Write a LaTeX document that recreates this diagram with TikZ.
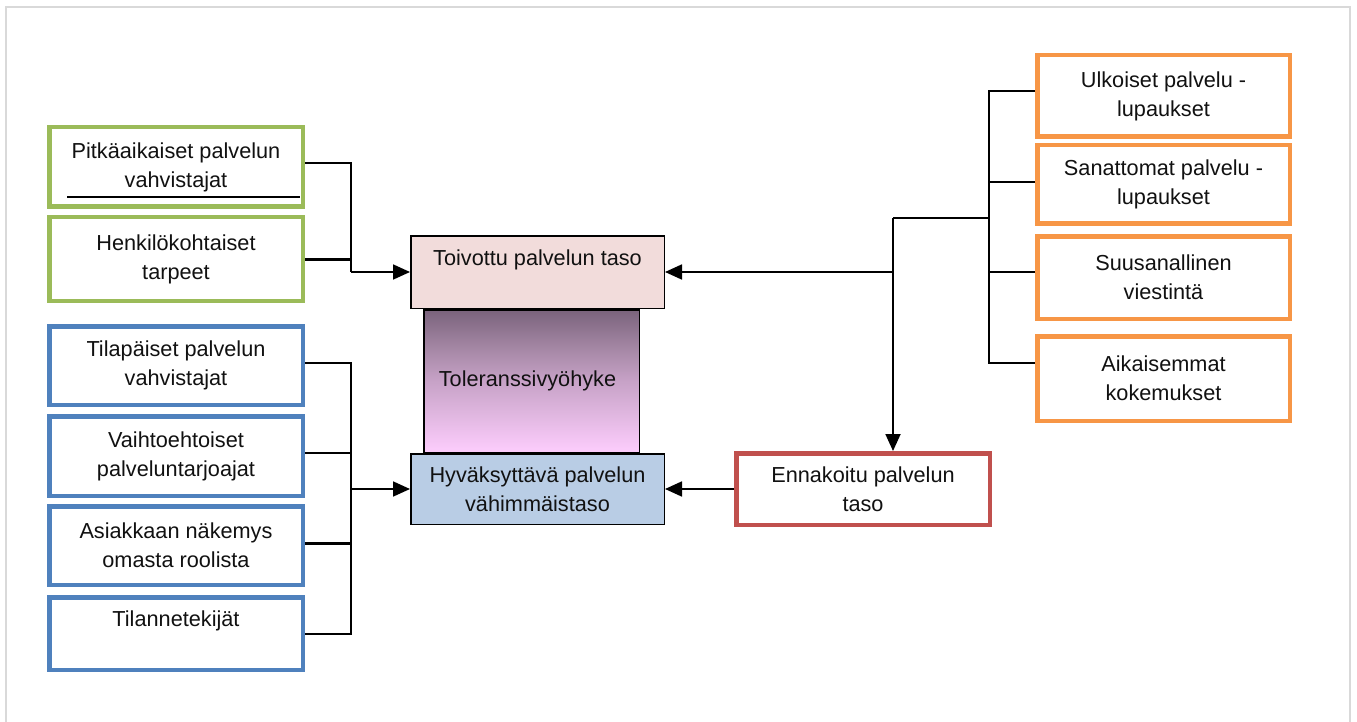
\documentclass[tikz,border=0pt]{standalone}
\usepackage{fontspec}
\setmainfont{Liberation Sans}
\usetikzlibrary{arrows.meta}

\definecolor{frameg}{HTML}{D9D9D9}
\definecolor{lgreen}{HTML}{9BBB59}
\definecolor{lblue}{HTML}{4F81BD}
\definecolor{lorange}{HTML}{F79646}
\definecolor{lred}{HTML}{C0504D}
\definecolor{pinkfill}{HTML}{F2DCDB}
\definecolor{bluefill}{HTML}{B9CDE5}
\definecolor{ink}{HTML}{111111}

% vertical gradient of the tolerance zone: 25bp = bottom edge, 75bp = top edge
\pgfdeclareverticalshading{tolshade}{100bp}{%
  rgb(0bp)=(0.992,0.804,0.992);
  rgb(25bp)=(0.992,0.804,0.992);
  rgb(37bp)=(0.890,0.725,0.890);
  rgb(50bp)=(0.780,0.635,0.780);
  rgb(62bp)=(0.640,0.525,0.640);
  rgb(75bp)=(0.478,0.388,0.486);
  rgb(100bp)=(0.478,0.388,0.486)}

\tikzset{
  base/.style={rectangle, inner sep=0pt, align=center, text=ink,
    font=\fontsize{21.7}{29}\selectfont},
  factor/.style={base, draw=#1, line width=4.5pt, fill=white},
  level/.style={base, draw=black, line width=1.5pt, fill=#1},
  conn/.style={draw=black, line width=1.8pt},
  heavy/.style={draw=black, line width=3pt},
  arr/.style={conn, -{Triangle[length=17pt,width=15pt]}},
}

\begin{document}
\begin{tikzpicture}[x=1pt,y=-1pt]
\useasboundingbox (0,0) rectangle (1357,722);
\fill[white] (0,0) rectangle (1357,722);

% page frame
\draw[frameg, line width=2.5pt] (6,722) -- (6,7) -- (1350,7) -- (1350,722);

% tolerance zone between the two service levels
\node[base, draw=black, line width=1.5pt, shading=tolshade,
      minimum width=215.5pt, minimum height=142.5pt] (tol) at (531.5,381)
      {\raisebox{-6pt}{\hspace{-8pt}Toleranssivyöhyke}};

% service levels
\node[level=pinkfill, minimum width=253.5pt, minimum height=72.5pt] (toiv) at (537.5,272)
      {Toivottu palvelun taso\\ \mbox{}};
\node[level=bluefill, minimum width=253.5pt, minimum height=70.5pt] (hyv) at (537.5,489)
      {Hyväksyttävä palvelun\\ vähimmäistaso};

% green factors
\node[factor=lgreen, minimum width=253.5pt, minimum height=79.5pt] (g1) at (176,167)
      {Pitkäaikaiset palvelun\\ vahvistajat};
\node[factor=lgreen, minimum width=253.5pt, minimum height=83.5pt] (g2) at (176,259)
      {Henkilökohtaiset\\ tarpeet};
\draw[black, line width=1.5pt] (67,197) -- (300,197);

% blue factors
\node[factor=lblue, minimum width=253.5pt, minimum height=78.5pt] (b1) at (176,365.5)
      {Tilapäiset palvelun\\ vahvistajat};
\node[factor=lblue, minimum width=253.5pt, minimum height=79.5pt] (b2) at (176,456)
      {Vaihtoehtoiset\\ palveluntarjoajat};
\node[factor=lblue, minimum width=253.5pt, minimum height=78.5pt] (b3) at (176,545.5)
      {Asiakkaan näkemys\\ omasta roolista};
\node[factor=lblue, minimum width=253.5pt, minimum height=72.5pt] (b4) at (176,633.5)
      {Tilannetekijät\\ \mbox{}};

% orange factors
\node[factor=lorange, minimum width=252.5pt, minimum height=81.5pt] (o1) at (1163.5,96)
      {Ulkoiset palvelu -\\ lupaukset};
\node[factor=lorange, minimum width=252.5pt, minimum height=78.5pt] (o2) at (1163.5,184.5)
      {Sanattomat palvelu -\\ lupaukset};
\node[factor=lorange, minimum width=252.5pt, minimum height=82.5pt] (o3) at (1163.5,277.5)
      {Suusanallinen\\ viestintä};
\node[factor=lorange, minimum width=252.5pt, minimum height=84.5pt] (o4) at (1163.5,378.5)
      {Aikaisemmat\\ kokemukset};

% predicted service
\node[factor=lred, minimum width=253.5pt, minimum height=71.5pt] (enn) at (863,489)
      {Ennakoitu palvelun\\ taso};

% junction points
\coordinate (gjoin) at (351,272);
\coordinate (bjoin) at (351,489);
\coordinate (ojoin) at (989,218);
\coordinate (rjoin) at (893,218);

% green bracket
\draw[conn] ([yshift=4pt]g1.east) -| (gjoin);
\draw[heavy] (g2.east) -- (g2.east -| gjoin);
\draw[arr] (gjoin) -- (toiv.west);

% blue bracket
\draw[conn] ([yshift=2.5pt]b1.east) -| ([yshift=-0.5pt]b4.east -| bjoin) -- ([yshift=-0.5pt]b4.east);
\draw[conn] ([yshift=3pt]b2.east) -- ([yshift=3pt]b2.east -| bjoin);
\draw[heavy] ([yshift=2.5pt]b3.east) -- ([yshift=2.5pt]b3.east -| bjoin);
\draw[arr] (bjoin) -- (hyv.west);

% orange bracket
\draw[conn] ([yshift=5pt]o1.west) -| ([yshift=15.5pt]o4.west -| ojoin) -- ([yshift=15.5pt]o4.west);
\draw[conn] ([yshift=2.5pt]o2.west) -- ([yshift=2.5pt]o2.west -| ojoin);
\draw[conn] ([yshift=5.5pt]o3.west) -- ([yshift=5.5pt]o3.west -| ojoin);
\draw[conn] (ojoin) -- (rjoin);
\draw[arr] (rjoin) -- (rjoin |- enn.north);
\draw[arr] (rjoin |- toiv.east) -- (toiv.east);

% predicted to minimum level
\draw[arr] (enn.west) -- (hyv.east);
\end{tikzpicture}
\end{document}
